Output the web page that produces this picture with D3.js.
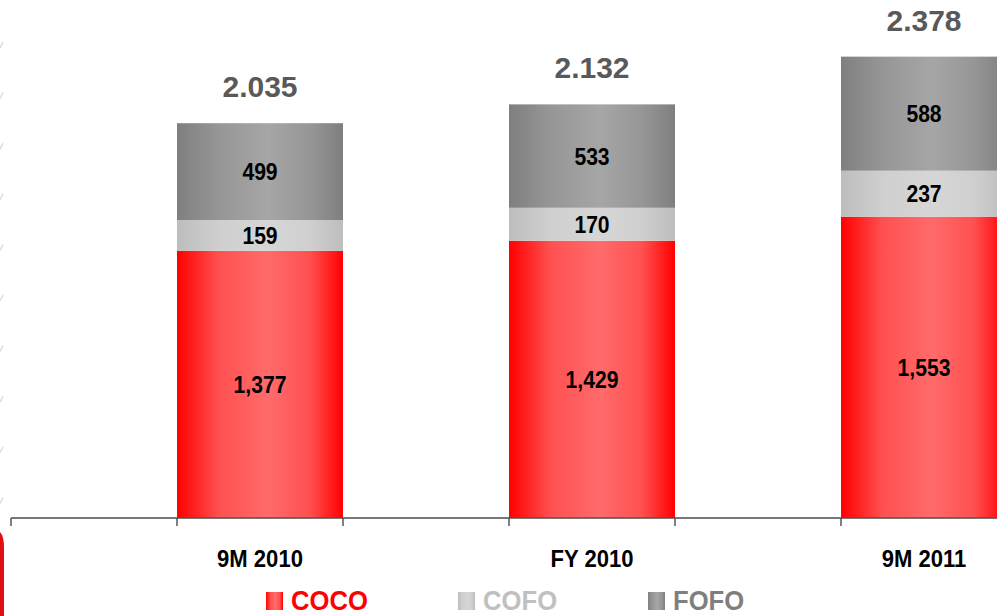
<!DOCTYPE html>
<html><head><meta charset="utf-8">
<script src="https://cdn.jsdelivr.net/npm/d3@7"></script>
<style>body{margin:0;background:#fff}svg{display:block}</style>
</head><body>
<svg id="c" width="997" height="616"></svg>
<script>
const categories = ["9M 2010", "FY 2010", "9M 2011"];
const seriesNames = ["COCO", "COFO", "FOFO"];
const coco = [1377, 1429, 1553];
const cofo = [159, 170, 237];
const fofo = [499, 533, 588];
const totalLabels = ["2.035", "2.132", "2.378"];

const svg = d3.select("#c");
const W = 997, H = 616, base = 518;
const font = "'Liberation Sans', Arial, sans-serif";

const x = d3.scaleBand().domain(categories).range([94, 1090]).paddingInner(0.5).paddingOuter(0.25);
const y = d3.scaleLinear().domain([0, 2670]).range([base, 0]);

const defs = svg.append("defs");
const grads = {
  COCO: ["#ff0000", "#ff5050", "#ff6b6b", "#ff5050", "#ff0000"],
  COFO: ["#bdbdbd", "#cfcfcf", "#d6d6d6", "#cfcfcf", "#bdbdbd"],
  FOFO: ["#7f7f7f", "#969696", "#a6a6a6", "#969696", "#7f7f7f"]
};
const offs = [0, 0.25, 0.55, 0.8, 1];
Object.entries(grads).forEach(([k, cols]) => {
  const g = defs.append("linearGradient").attr("id", "g" + k).attr("x1", 0).attr("x2", 1).attr("y1", 0).attr("y2", 0);
  cols.forEach((c, i) => g.append("stop").attr("offset", offs[i]).attr("stop-color", c));
});

// left-edge decoration
const deco = svg.append("g");
d3.range(10).forEach(i => {
  const yy = 45 + i * 50.6;
  deco.append("path").attr("d", `M0,${yy + 3} L3,${yy - 3}`).attr("stroke", "#d8d8d8").attr("stroke-width", 1.2).attr("fill", "none");
});
deco.append("path").attr("d", "M0,532 Q4,536 4,548 L4,616 L0,616 Z").attr("fill", "#e01010");

// stacked data
const rows = categories.map((c, i) => ({ cat: c, COCO: coco[i], COFO: cofo[i], FOFO: fofo[i] }));
const stacked = d3.stack().keys(seriesNames)(rows);

const bw = x.bandwidth();
stacked.forEach(layer => {
  const key = layer.key;
  const g = svg.append("g");
  g.selectAll("rect").data(layer).join("rect")
    .attr("x", d => x(d.data.cat))
    .attr("width", bw)
    .attr("y", d => y(d[1]))
    .attr("height", d => y(d[0]) - y(d[1]))
    .attr("fill", `url(#g${key})`);
  g.selectAll("text").data(layer).join("text")
    .attr("transform", d => `translate(${x(d.data.cat) + bw / 2},${(y(d[0]) + y(d[1])) / 2 + 8.5}) scale(0.88,1)`)
    .attr("text-anchor", "middle")
    .attr("font-family", font).attr("font-weight", "bold").attr("font-size", 24)
    .attr("fill", "#000")
    .text(d => d3.format(",")(d.data[key]));
});

// totals
svg.append("g").selectAll("text").data(stacked[2]).join("text")
  .attr("x", (d) => x(d.data.cat) + bw / 2)
  .attr("y", d => y(d[1]) - 26)
  .attr("text-anchor", "middle")
  .attr("font-family", font).attr("font-weight", "bold").attr("font-size", 30)
  .attr("fill", "#595959")
  .text((d, i) => totalLabels[i]);

// axis
const ax = svg.append("g");
ax.append("line").attr("x1", 11).attr("x2", W).attr("y1", base).attr("y2", base)
  .attr("stroke", "#555").attr("stroke-opacity", 0.8).attr("stroke-width", 2);
const ticks = [11].concat(...categories.map(c => [x(c), x(c) + bw]));
ax.selectAll("line.t").data(ticks).join("line").attr("class", "t")
  .attr("x1", d => d).attr("x2", d => d).attr("y1", base).attr("y2", base + 8)
  .attr("stroke", "#555").attr("stroke-width", 1.5);
ax.selectAll("text").data(categories).join("text")
  .attr("transform", d => `translate(${x(d) + bw / 2},567) scale(0.92,1)`)
  .attr("text-anchor", "middle")
  .attr("font-family", font).attr("font-weight", "bold").attr("font-size", 24)
  .attr("fill", "#000")
  .text(d => d);

// legend
const legendX = [266, 458, 648];
const legendCol = { COCO: "#ff0000", COFO: "#c0c0c0", FOFO: "#7f7f7f" };
const lg = svg.append("g").selectAll("g").data(seriesNames).join("g")
  .attr("transform", (d, i) => `translate(${legendX[i]},0)`);
lg.append("rect").attr("x", 0).attr("y", 592).attr("width", 17).attr("height", 18)
  .attr("fill", d => `url(#g${d})`);
lg.append("text")
  .attr("transform", "translate(25,610) scale(0.95,1)")
  .attr("font-family", font).attr("font-weight", "bold").attr("font-size", 27)
  .attr("fill", d => legendCol[d])
  .text(d => d);
</script>
</body></html>
